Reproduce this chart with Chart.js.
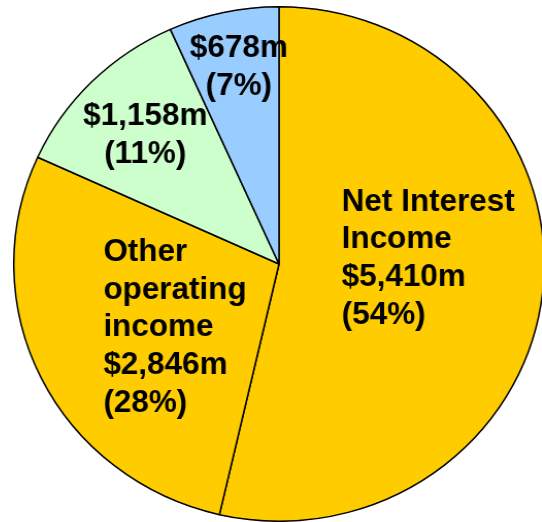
<!DOCTYPE html>
<html>
<head>
<meta charset="utf-8">
<script src="https://cdn.jsdelivr.net/npm/chart.js@4"></script>
<style>
  html, body { margin: 0; padding: 0; background: #fff; }
  body { width: 542px; height: 522px; position: relative; overflow: hidden; }
  /* the source pie is a touch wider than tall, so stretch the canvas */
  #pie { position: absolute; left: 13px; top: 6px; width: 532px !important; height: 516px !important; }
</style>
</head>
<body>
<canvas id="pie" width="516" height="516"></canvas>
<script>
// income split, clockwise from 12 o'clock
const names = [["Net Interest", "Income"], ["Other", "operating", "income"], [], []];
const values = [5410, 2846, 1158, 678];
const colors = ["#FFCC00", "#FFCC00", "#CCFFCC", "#99CCFF"];

// where each label block sits, relative to the slice's tooltip point
const labelAlign = ["left", "left", "center", "center"];
const labelOffset = [[-67, -68], [-55, -60], [-39, -48], [-12, -81]];

const total = values.reduce((a, b) => a + b, 0);

const sliceLabels = {
  id: "sliceLabels",
  afterDatasetsDraw(chart) {
    const ctx = chart.ctx;
    const arcs = chart.getDatasetMeta(0).data;
    ctx.save();
    ctx.fillStyle = "#000";
    ctx.font = "bold 30.5px 'Liberation Sans', Arial, sans-serif";
    ctx.textBaseline = "alphabetic";
    arcs.forEach((arc, i) => {
      const p = arc.tooltipPosition();
      const lines = names[i].concat([
        "$" + values[i].toLocaleString("en-US") + "m",
        "(" + Math.round((values[i] / total) * 100) + "%)",
      ]);
      ctx.textAlign = labelAlign[i];
      const x = p.x + labelOffset[i][0];
      const y = p.y + labelOffset[i][1];
      lines.forEach((t, k) => ctx.fillText(t, x, y + k * 37.8));
    });
    ctx.restore();
  },
};

new Chart(document.getElementById("pie"), {
  type: "pie",
  data: {
    labels: names.map((n) => n.join(" ")),
    datasets: [
      {
        data: values,
        backgroundColor: colors,
        borderColor: "#000",
        borderWidth: 1.5,
      },
    ],
  },
  options: {
    responsive: false,
    devicePixelRatio: 1,
    animation: false,
    layout: { padding: 0 },
    plugins: {
      legend: { display: false },
      tooltip: { enabled: false },
    },
  },
  plugins: [sliceLabels],
});
</script>
</body>
</html>
